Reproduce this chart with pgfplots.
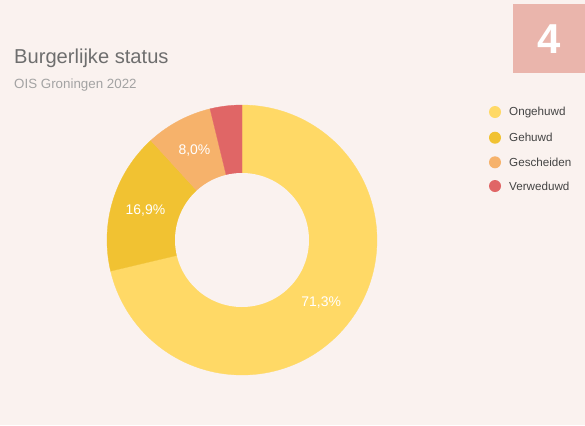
\documentclass[border=0pt]{standalone}
\usepackage{pgfplots}
\pgfplotsset{compat=1.18}
\usepackage{fontspec}
\setmainfont{Liberation Sans}
\definecolor{bg}{HTML}{FAF2EF}
\definecolor{c1}{HTML}{FFD966}
\definecolor{c2}{HTML}{F1C232}
\definecolor{c3}{HTML}{F6B26B}
\definecolor{c4}{HTML}{E06666}
\definecolor{boxc}{HTML}{EAB5AC}
\definecolor{titc}{HTML}{6E6E6E}
\definecolor{subc}{HTML}{A3A3A3}
\definecolor{legc}{HTML}{444444}
\begin{document}
\begin{tikzpicture}[x=1bp,y=1bp]
\fill[bg] (-242,-185) rectangle (343,240);
% data (percent)
\def\vA{71.3}\def\vB{16.9}\def\vC{8.0}\def\vD{3.8}
\pgfmathsetmacro{\aA}{90}
\pgfmathsetmacro{\aB}{\aA-\vA*3.6}
\pgfmathsetmacro{\aC}{\aB-\vB*3.6}
\pgfmathsetmacro{\aD}{\aC-\vC*3.6}
\pgfmathsetmacro{\aE}{\aD-\vD*3.6}
\pgfmathsetmacro{\mA}{(\aA+\aB)/2}
\pgfmathsetmacro{\mB}{(\aB+\aC)/2}
\pgfmathsetmacro{\mC}{(\aC+\aD)/2}
\begin{axis}[at={(-242bp,-185bp)}, anchor=south west, x=1bp, y=1bp,
  xmin=-242, xmax=343, ymin=-185, ymax=240, hide axis, clip=false]
\addplot[fill=c1, draw=c1, line width=0.3pt, domain=\aB:\aA, samples=120] ({135*cos(x)},{135*sin(x)}) -- (axis cs:0,0) -- cycle;
\addplot[fill=c2, draw=c2, line width=0.3pt, domain=\aC:\aB, samples=40] ({135*cos(x)},{135*sin(x)}) -- (axis cs:0,0) -- cycle;
\addplot[fill=c3, draw=c3, line width=0.3pt, domain=\aD:\aC, samples=30] ({135*cos(x)},{135*sin(x)}) -- (axis cs:0,0) -- cycle;
\addplot[fill=c4, draw=c4, line width=0.3pt, domain=\aE:\aD, samples=20] ({135*cos(x)},{135*sin(x)}) -- (axis cs:0,0) -- cycle;
\addplot[fill=bg, draw=none, domain=0:360, samples=160] ({67*cos(x)},{67*sin(x)}) -- cycle;
\node[text=white, font=\fontsize{14}{16}\selectfont] at (axis cs:{101*cos(\mA)},{101*sin(\mA)}) {71,3\%};
\node[text=white, font=\fontsize{14}{16}\selectfont] at (axis cs:{101*cos(\mB)},{101*sin(\mB)}) {16,9\%};
\node[text=white, font=\fontsize{14}{16}\selectfont] at (axis cs:{101*cos(\mC)},{101*sin(\mC)}) {8,0\%};
\end{axis}
% title
\node[anchor=base west, inner sep=0, text=titc, font=\fontsize{20.2}{22}\selectfont] at (-228,177) {Burgerlijke status};
\node[anchor=base west, inner sep=0, text=subc, font=\fontsize{13.4}{15}\selectfont] at (-228,152) {OIS Groningen 2022};
% badge
\fill[boxc] (271,167) rectangle (343,236);
\node[text=white, font=\fontsize{42}{46}\selectfont\bfseries] at (307,201) {4};
% legend
\foreach \y/\c/\t in {128/c1/Ongehuwd, 102.3/c2/Gehuwd, 77.7/c3/Gescheiden, 54/c4/Verweduwd}{
  \fill[\c] (253,\y) circle (6);
  \node[anchor=west, inner sep=0, text=legc, font=\fontsize{11.7}{14}\selectfont] at (267,\y) {\t};
}
\end{tikzpicture}
\end{document}
